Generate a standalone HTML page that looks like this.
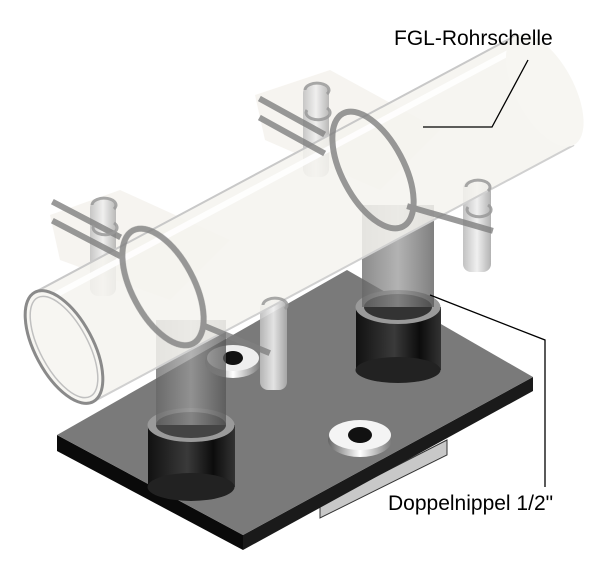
<!DOCTYPE html>
<html><head><meta charset="utf-8"><style>
html,body{margin:0;padding:0;background:#fff;width:600px;height:576px;overflow:hidden}
svg{display:block}
text{font-family:"Liberation Sans",Arial,sans-serif;fill:#000}
</style></head><body>
<svg width="600" height="576" viewBox="0 0 600 576" xmlns="http://www.w3.org/2000/svg">
<defs>
<linearGradient id="cyl" x1="0" x2="1" y1="0" y2="0">
<stop offset="0" stop-color="#111"/><stop offset="0.45" stop-color="#3a3a3a"/><stop offset="0.75" stop-color="#0c0c0c"/><stop offset="1" stop-color="#333"/></linearGradient>
<linearGradient id="tube" x1="0" x2="1" y1="0" y2="0">
<stop offset="0" stop-color="#666"/><stop offset="0.5" stop-color="#999"/><stop offset="1" stop-color="#555"/></linearGradient>
<linearGradient id="bolt" x1="0" x2="1"><stop offset="0" stop-color="#bbb"/><stop offset="0.5" stop-color="#eee"/><stop offset="1" stop-color="#aaa"/></linearGradient>
<linearGradient id="wash" x1="0" x2="1"><stop offset="0" stop-color="#666"/><stop offset="0.5" stop-color="#fff"/><stop offset="1" stop-color="#777"/></linearGradient>
</defs>
<!-- faint shadows of clamps -->
<polygon points="50,215 120,190 230,240 170,300 60,260" fill="#f2f0ea" opacity="0.7"/>
<polygon points="255,95 330,70 440,130 380,190 265,140" fill="#f2f0ea" opacity="0.7"/>
<!-- light gray block under plate -->
<polygon points="320,505 447,440 447,455 320,518" fill="#c8c8c8" stroke="#333" stroke-width="1"/>
<!-- plate -->
<polygon points="57,435 243,535 243,550 57,451" fill="#0a0a0a"/>
<polygon points="243,535 533,377 533,391 243,550" fill="#1a1a1a"/>
<polygon points="57,435 347,270 533,377 243,535" fill="#7a7a7a"/>
<!-- washers -->
<ellipse cx="233" cy="362" rx="28" ry="16" fill="url(#wash)"/>
<ellipse cx="233" cy="358" rx="26" ry="13" fill="#eee"/>
<ellipse cx="233" cy="358" rx="10" ry="7" fill="#111"/>
<ellipse cx="360" cy="440" rx="32" ry="17" fill="url(#wash)"/>
<ellipse cx="360" cy="435" rx="31" ry="15" fill="#f4f4f4"/>
<ellipse cx="360" cy="435" rx="12" ry="8" fill="#111"/>
<!-- left nipple -->
<rect x="148" y="425" width="87" height="62" fill="url(#cyl)"/>
<ellipse cx="191" cy="487" rx="43.5" ry="14" fill="#222"/>
<ellipse cx="191" cy="425" rx="43.5" ry="17" fill="#9a9a9a"/>
<ellipse cx="191" cy="425" rx="35" ry="13" fill="#444"/>
<rect x="156" y="320" width="70" height="105" fill="url(#tube)" opacity="0.75"/>
<!-- right nipple -->
<rect x="356" y="307" width="85" height="63" fill="url(#cyl)"/>
<ellipse cx="398" cy="370" rx="42.5" ry="13" fill="#222"/>
<ellipse cx="398" cy="307" rx="42.5" ry="17" fill="#9a9a9a"/>
<ellipse cx="398" cy="307" rx="34" ry="13" fill="#333"/>
<rect x="362" y="205" width="72" height="102" fill="url(#tube)" opacity="0.75"/>
<!-- bolts -->
<rect x="260" y="300" width="27" height="90" rx="8" fill="url(#bolt)" opacity="0.9"/>
<rect x="463" y="180" width="28" height="92" rx="8" fill="url(#bolt)" opacity="0.9"/>
<rect x="90" y="200" width="26" height="96" rx="8" fill="url(#bolt)" opacity="0.8"/>
<rect x="303" y="85" width="26" height="92" rx="8" fill="url(#bolt)" opacity="0.8"/>
<!-- pipe -->
<g transform="translate(64,347) rotate(-28.1)">
<rect x="0" y="-62" width="545" height="124" fill="#f5f3ee" opacity="0.85"/>
<line x1="0" y1="-62" x2="545" y2="-62" stroke="#c8c8c8" stroke-width="2"/>
<line x1="0" y1="62" x2="545" y2="62" stroke="#d0d0d0" stroke-width="2"/>
<line x1="10" y1="-50" x2="545" y2="-50" stroke="#fff" stroke-width="6" opacity="0.9"/>
<ellipse cx="545" cy="0" rx="29" ry="62" fill="#f7f6f2"/>
<ellipse cx="0" cy="0" rx="29" ry="62" fill="#f7f6f2" stroke="#8a8a8a" stroke-width="3"/>
<ellipse cx="0" cy="0" rx="24" ry="56" fill="none" stroke="#c0c0c0" stroke-width="1.5"/>
</g>
<!-- clamps -->
<g stroke="#808080" stroke-width="6" opacity="0.8" fill="none" stroke-linecap="square">
<ellipse transform="translate(163,287) rotate(-28)" rx="31" ry="64"/>
<ellipse transform="translate(373,170) rotate(-28)" rx="31" ry="64"/>
<line x1="55" y1="203" x2="118" y2="236"/>
<line x1="55" y1="222" x2="118" y2="255"/>
<line x1="207" y1="327" x2="267" y2="352"/>
<line x1="262" y1="100" x2="322" y2="133"/>
<line x1="262" y1="119" x2="322" y2="152"/>
<line x1="410" y1="207" x2="490" y2="230"/>
</g>
<!-- bolt heads -->
<g fill="none" stroke="#999" stroke-width="3" opacity="0.85">
<path d="M92,205 a12,7 0 1 1 22,4"/>
<path d="M94,225 a12,7 0 1 0 20,-2"/>
<path d="M305,90 a12,7 0 1 1 22,4"/>
<path d="M307,110 a12,7 0 1 0 20,-2"/>
<path d="M263,305 a12,7 0 1 1 22,4"/>
<path d="M466,187 a12,7 0 1 1 22,4"/>
<path d="M468,207 a12,7 0 1 0 20,-2"/>
</g>
<!-- leaders -->
<polyline points="528,60 492,127 423,127" fill="none" stroke="#000" stroke-width="1.3"/>
<polyline points="430,295 545,340 545,487" fill="none" stroke="#000" stroke-width="1.3"/>
<text x="394" y="45" font-size="21">FGL-Rohrschelle</text>
<text x="388" y="510" font-size="21">Doppelnippel 1/2"</text>
</svg>
</body></html>
